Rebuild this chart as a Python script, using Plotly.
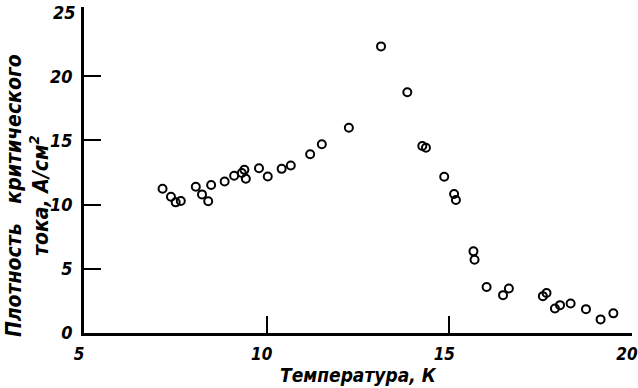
import plotly.graph_objects as go

# Temperature, K
temperature = [7.15, 7.38, 7.51, 7.65, 8.06, 8.23, 8.40, 8.48, 8.85, 9.11, 9.32, 9.39, 9.43,
               9.79, 10.03, 10.41, 10.66, 11.19, 11.51, 12.25, 13.13, 13.85, 14.26, 14.36,
               14.86, 15.13, 15.18, 15.66, 15.69, 16.02, 16.47, 16.63, 17.56, 17.66, 17.89,
               18.03, 18.32, 18.74, 19.14, 19.49]
# Critical current density, A/cm^2
current_density = [11.24, 10.62, 10.18, 10.29, 11.40, 10.80, 10.26, 11.53, 11.81, 12.25, 12.46,
                   12.71, 12.02, 12.84, 12.19, 12.79, 13.05, 13.93, 14.70, 15.99, 22.33, 18.76,
                   14.57, 14.44, 12.17, 10.83, 10.36, 6.36, 5.71, 3.59, 2.95, 3.47, 2.87, 3.12,
                   1.91, 2.17, 2.30, 1.86, 1.06, 1.53]

x_ticks = [5, 10, 15, 20]
y_ticks = [0, 5, 10, 15, 20]   # ticks drawn on the axis
y_top_label = 25               # label shown at the top without a tick

FONT = "DejaVu Sans Condensed, DejaVu Sans, sans-serif"

fig = go.Figure()
fig.add_trace(go.Scatter(
    x=temperature, y=current_density, mode="markers",
    marker=dict(symbol="circle-open", size=8, color="black",
                line=dict(width=2, color="black")),
    showlegend=False, cliponaxis=False,
))

tick_font = dict(family=FONT, size=18, color="black", style="italic", weight="bold")
xtick_font = dict(family=FONT, size=17, color="black", style="italic", weight="bold")
common = dict(showline=True, linecolor="black", linewidth=2.5,
              ticks="inside", ticklen=17, tickwidth=2, tickcolor="black",
              showgrid=False, zeroline=False,
              automargin=False, ticklabeloverflow="allow")
fig.update_xaxes(range=[5, 20], tickvals=x_ticks, ticktext=[str(v) for v in x_ticks],
                 ticklabelstandoff=4, ticklabelshift=-5, tickfont=xtick_font, **common)
fig.update_yaxes(range=[0, 25.4], tickvals=y_ticks, ticktext=[str(v) for v in y_ticks],
                 ticklabelstandoff=5, tickfont=tick_font, **common)

fig.add_annotation(text=str(y_top_label), xref="paper", yref="y",
                   x=0, y=y_top_label, xanchor="right", yanchor="middle",
                   xshift=-6, showarrow=False, font=tick_font)

title_font = dict(family=FONT, size=19, color="black", style="italic", weight="bold")
fig.add_annotation(text="Температура, К", xref="paper", yref="paper",
                   x=0.5, y=-0.13, xanchor="center", yanchor="middle",
                   showarrow=False, font=title_font)
fig.add_annotation(text="Плотность   критического<br>тока, А/см<sup>2</sup>",
                   xref="paper", yref="paper", x=-0.104, y=0.42,
                   xanchor="center", yanchor="middle", textangle=-90,
                   showarrow=False, font=dict(family=FONT, size=21, color="black",
                                              style="italic", weight="bold"))

fig.update_layout(width=638, height=388, margin=dict(l=84, r=6, t=7, b=55, autoexpand=False),
                  paper_bgcolor="white", plot_bgcolor="white")
fig.write_html("out.html", config={"displayModeBar": False},
               post_script="document.body.style.margin='0';document.body.style.overflow='hidden';")
